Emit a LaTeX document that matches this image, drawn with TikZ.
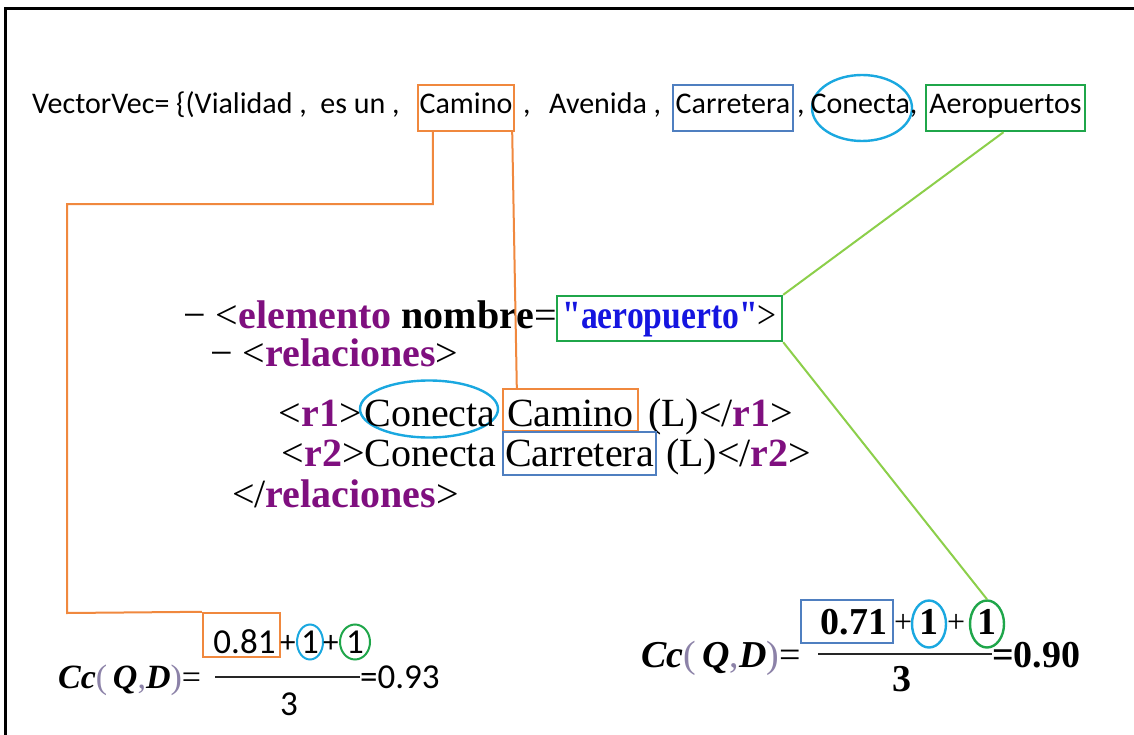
\documentclass[tikz,border=0pt]{standalone}
\usepackage{fontspec}
\usepackage{graphicx}
\setmainfont{Liberation Serif}
\newfontfamily\calfont{Carlito}
\newfontfamily\rkqf{Liberation Serif}
\usetikzlibrary{shapes.geometric}
\definecolor{cOr}{HTML}{F0883E}
\definecolor{cBl}{HTML}{4F7FC0}
\definecolor{cCy}{HTML}{1AA8E0}
\definecolor{cGr}{HTML}{1FA64A}
\definecolor{cLg}{HTML}{8CCF4A}
\definecolor{cPu}{HTML}{7F0F7F}
\definecolor{cAb}{HTML}{1515E0}
\definecolor{cPar}{HTML}{8C82A8}
\newcommand{\rkTop}{\calfont\fontsize{30}{34}\selectfont}
\newcommand{\rkXml}{\fontsize{40}{46}\selectfont}
\newcommand{\rkLf}{\calfont\fontsize{35}{40}\selectfont}
\newcommand{\rkLp}{\calfont\fontsize{31}{34}\selectfont}
\newcommand{\rkRf}{\bfseries\fontsize{38}{44}\selectfont}
\newcommand{\rkRp}{\fontsize{32}{36}\selectfont}
\newcommand{\rkTag}[1]{\textcolor{cPu}{\textbf{#1}}}
\newcommand{\rkCc}{\textbf{\textit{Cc}}\textcolor{cPar}{(}\,\textbf{\textit{Q}}\textcolor{cPar}{,}\textbf{\textit{D}}\textcolor{cPar}{)}=}
\tikzset{
  box/.style={draw, line width=2.4pt, inner sep=0pt, anchor=base},
  ell/.style={ellipse, draw, line width=2.4pt, inner sep=0pt},
  txt/.style={inner sep=0pt, anchor=base west},
  ctxt/.style={inner sep=0pt, anchor=base},
  conn/.style={line width=2pt},
  fbar/.style={line width=2.5pt, draw=black!85},
}
\begin{document}
\begin{tikzpicture}[x=1pt,y=-1pt]
\useasboundingbox (0,0) rectangle (1134,735);
\fill[white] (0,0) rectangle (1134,735);
\draw[line width=3pt] (1134,9) -- (5,9) -- (5,735);

% top line
\node[txt] (t1) at (32,114) {\rkTop VectorVec= \{(Vialidad ,\ \ es un ,};
\node[box, draw=cOr, minimum width=96pt, text height=29pt, text depth=17pt] (bCam) at (466,114) {\rkTop Camino};
\node[txt] (t2) at (523,114) {\rkTop ,};
\node[txt] (t2b) at (549,114) {\rkTop Avenida ,};
\node[box, draw=cBl, minimum width=120pt, text height=29pt, text depth=17pt] (bCar) at (733,114) {\rkTop Carretera};
\node[txt] (t3) at (797,114) {\rkTop ,};
\node[ell, draw=cCy, minimum width=100pt, minimum height=66pt] (eCon) at (862,108) {};
\node[ctxt] (tCon) at (864,114) {\rkTop Conecta,};
\node[box, draw=cGr, minimum width=159pt, text height=29pt, text depth=17pt] (bAer) at (1005.5,114) {\rkTop Aeropuertos};

% xml
\node[txt, anchor=base east] (x1) at (557,328) {\rkXml − <\rkTag{elemento} \textbf{nombre}=};
\node[box, draw=cGr, minimum width=225pt, text height=32pt, text depth=13pt] (bAero) at (669.5,328) {\rkXml\scalebox{0.84}[1]{\textcolor{cAb}{\rkqf\bfseries "aeropuerto"}>}};
\node[txt] (x2) at (210,366) {\rkXml − <\rkTag{relaciones}>};
\node[txt, anchor=base east] (x3a) at (362,426) {\rkXml <\rkTag{r1}>};
\node[ell, draw=cCy, minimum width=138pt, minimum height=57pt] (eCon2) at (429,409) {};
\node[ctxt] (tCon2) at (430,426) {\rkXml Conecta};
\node[box, draw=cOr, minimum width=135pt, text height=37pt, text depth=5pt] (bCam2) at (570.5,426) {\rkXml Camino};
\node[txt] (x3b) at (638,426) {\rkXml\ (L)</\rkTag{r1}>};
\node[txt, anchor=base east] (x4a) at (496,466) {\rkXml <\rkTag{r2}>Conecta};
\node[box, draw=cBl, minimum width=153pt, text height=34pt, text depth=9pt] (bCar2) at (579.5,466) {\rkXml Carretera};
\node[txt] (x4b) at (656,466) {\rkXml\ (L)</\rkTag{r2}>};
\node[txt] (x5) at (232,507) {\rkXml </\rkTag{relaciones}>};

% left formula
\node[txt] (fL) at (58,688) {\fontsize{34}{40}\selectfont\rkCc};
\node[box, draw=cOr, minimum width=77pt, text height=40pt, text depth=4pt] (bL) at (241.5,653) {\rkLf\hspace*{6pt}0.81};
\node[txt] (pL1) at (280,652) {\rkLp +};
\node[ell, draw=cCy, line width=2pt, minimum width=26pt, minimum height=35pt] (cL1) at (310,642) {};
\node[ctxt] (tL1) at (310,653) {\rkLf 1};
\node[txt] (pL2) at (323,652) {\rkLp +};
\node[ell, draw=cGr, line width=2pt, minimum width=30pt, minimum height=35pt] (cL2) at (355,642) {};
\node[ctxt] (tL2) at (355,653) {\rkLf 1};
\draw[fbar] (215,677) -- (360,677);
\node[ctxt] (dL) at (289,715) {\rkLf 3};
\node[txt] (rL) at (360,688) {\rkLf =0.93};

% right formula
\node[txt] (fR) at (641,667) {\fontsize{38}{44}\selectfont\rkCc};
\node[box, draw=cBl, minimum width=92pt, text height=34pt, text depth=9pt] (bR) at (847,634) {\rkRf\hspace*{14pt}0.71};
\node[txt] (pR1) at (894,632) {\rkRp +};
\node[ell, draw=cCy, minimum width=34pt, minimum height=47pt] (cR1) at (929,624) {};
\node[ctxt] (tR1) at (929,634) {\rkRf 1};
\node[txt] (pR2) at (947,632) {\rkRp +};
\node[ell, draw=cGr, minimum width=34pt, minimum height=47pt] (cR2) at (987,624) {};
\node[ctxt] (tR2) at (987,634) {\rkRf 1};
\draw[fbar] (818,654) -- (992,654);
\node[ctxt] (dR) at (902,691) {\rkRf 3};
\node[txt] (rR) at (992,667) {\rkRf =0.90};

% connectors
\draw[conn, draw=cOr] ([xshift=16pt]bCam.south west) -- ++(0,72) -| (67,613) -- (bL.north west);
\draw[conn, draw=cOr] ([xshift=-3pt]bCam.south east) -- ([xshift=15pt]bCam2.north west);
\draw[conn, draw=cLg] ([xshift=-2pt]bAer.south) -- (bAero.north east);
\draw[conn, draw=cLg] (bAero.south east) -- (cR2.north);
\end{tikzpicture}
\end{document}
